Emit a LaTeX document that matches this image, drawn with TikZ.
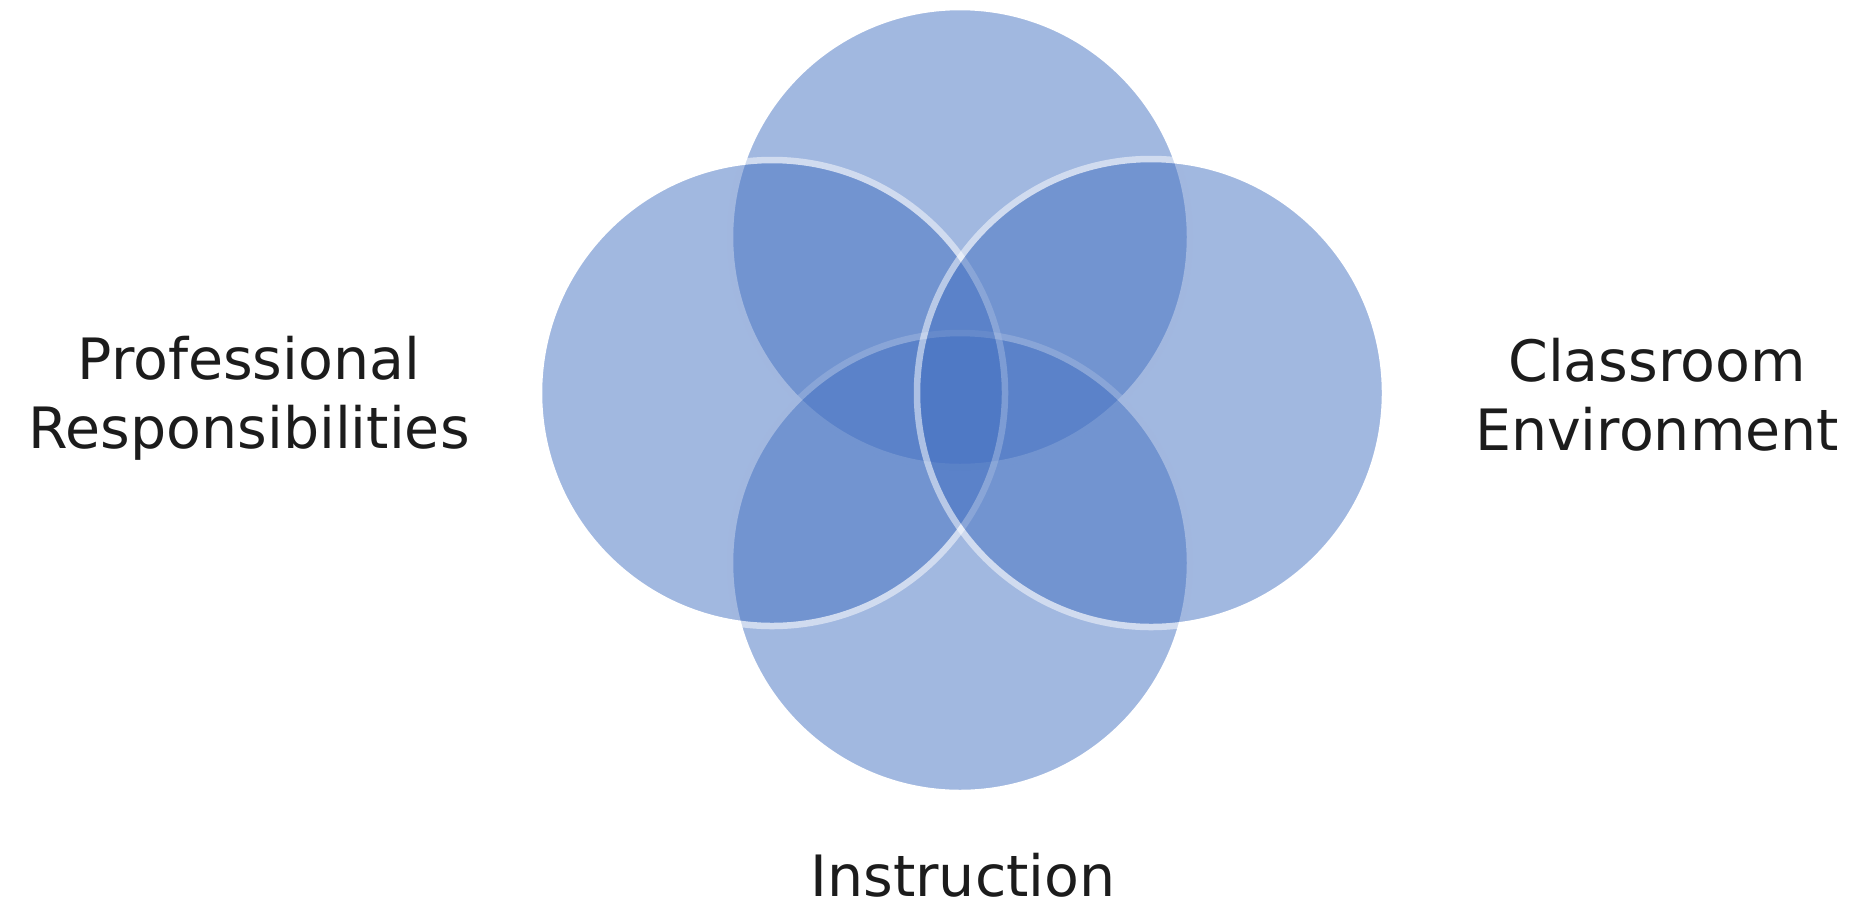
\documentclass[tikz,border=0pt]{standalone}
\usepackage{fontspec}
\setmainfont{DejaVu Sans}
\definecolor{vennblue}{RGB}{68,113,193}
\definecolor{labelgray}{RGB}{28,28,28}
\tikzset{
  venngroup/.style={transparency group, opacity=0.5},
  vennfill/.style={fill=vennblue},
  vennband/.style={draw=white, line width=6.5pt},
  vlabel/.style={font=\fontsize{57}{69}\selectfont, text=labelgray, align=center, inner sep=0pt}
}
% one circle of the diagram: centre #1, radius #2, drawn as a group
\newcommand{\vennshape}[2]{%
  \begin{scope}[venngroup]
    \fill[vennfill] (#1) circle[radius=#2];
    \draw[vennband] (#1) circle[radius=#2];
  \end{scope}}
\begin{document}
\begin{tikzpicture}[x=1pt,y=-1pt]
\useasboundingbox (0,0) rectangle (1854,906);
\coordinate (cT) at (960,237);
\coordinate (cL) at (772,393);
\coordinate (cR) at (1151,393);
\coordinate (cB) at (960,563);
\vennshape{cT}{230pt}
\vennshape{cB}{230pt}
\vennshape{cL}{233pt}
\vennshape{cR}{234pt}
\node[vlabel, anchor=base] (prof) at (249,448) {Professional\\Responsibilities};
\node[vlabel, anchor=base] (class) at (1657,450) {Classroom\\Environment};
\node[vlabel, anchor=base] (instr) at (963,896) {Instruction};
\end{tikzpicture}
\end{document}
